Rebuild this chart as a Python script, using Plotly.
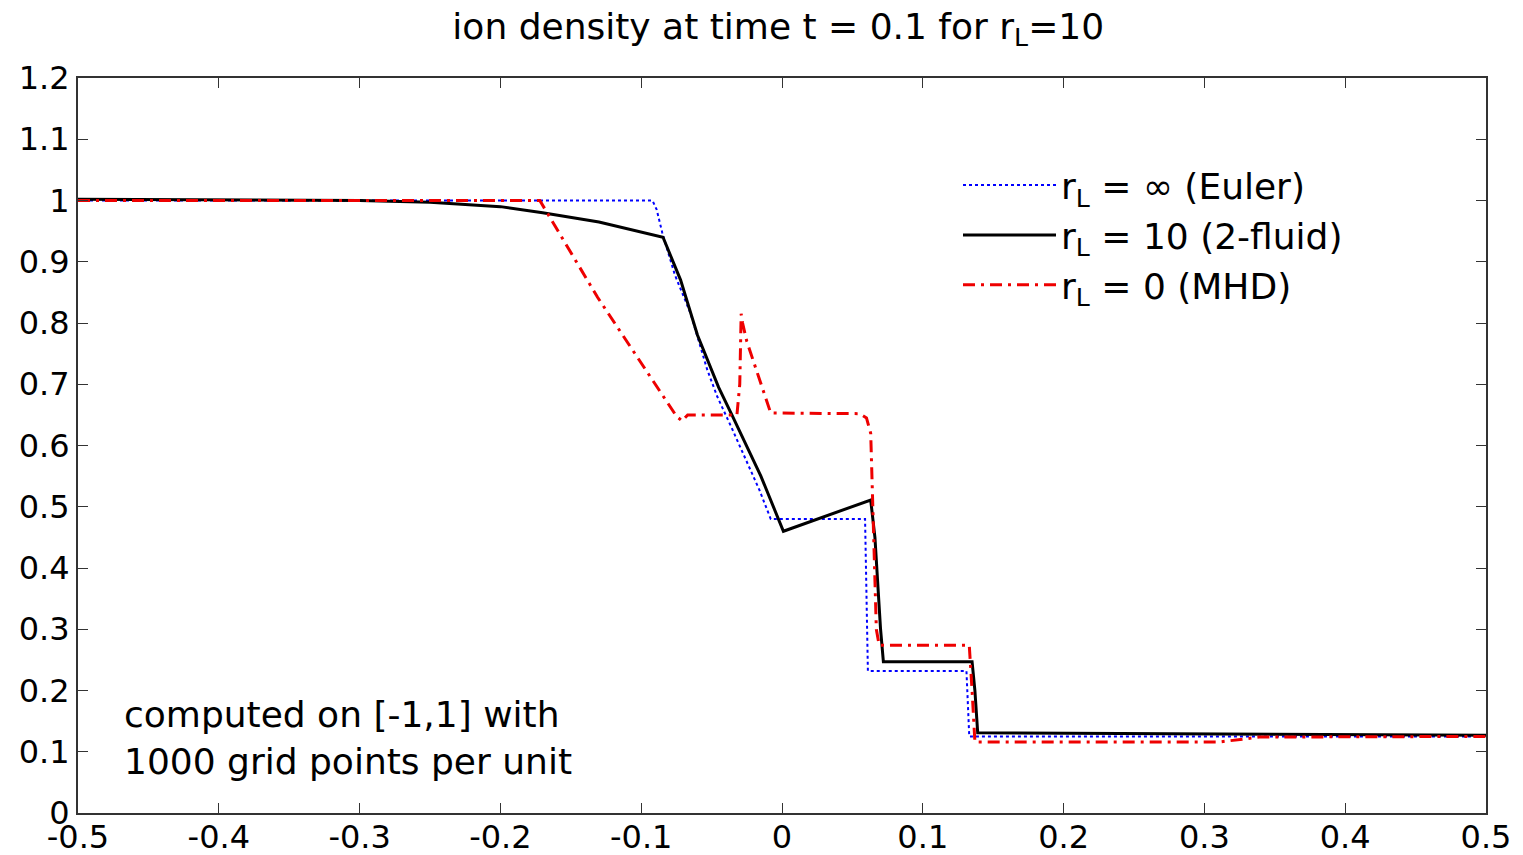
import plotly.graph_objects as go

# Euler (r_L = inf)
euler_x = [-0.5, -0.092, -0.089, -0.085, -0.076, -0.065, -0.053, -0.046, -0.035, -0.016, -0.008, 0.059, 0.061, 0.131, 0.133, 0.5]
euler_y = [1.0, 1.0, 0.985, 0.947, 0.878, 0.816, 0.723, 0.68, 0.625, 0.527, 0.48, 0.48, 0.232, 0.232, 0.125, 0.125]

# 2-fluid (r_L = 10)
fluid_x = [-0.5, -0.3, -0.25, -0.2, -0.17, -0.13, -0.0845, -0.072, -0.060, -0.045, -0.035, -0.015, 0.001, 0.063, 0.066, 0.070, 0.072, 0.135, 0.137, 0.139, 0.24, 0.5]
fluid_y = [1.002, 1.0, 0.997, 0.99, 0.98, 0.965, 0.94, 0.87, 0.78, 0.695, 0.647, 0.55, 0.46, 0.511, 0.45, 0.30, 0.247, 0.247, 0.20, 0.131, 0.13, 0.127]

# MHD (r_L = 0)
mhd_x = [-0.5, -0.172, -0.131, -0.075, -0.071, -0.067, -0.032, -0.030, -0.029, -0.028, -0.025, -0.012, -0.008, 0.055, 0.060, 0.063, 0.067, 0.069, 0.133, 0.135, 0.137, 0.311, 0.339, 0.5]
mhd_y = [1.0, 1.0, 0.842, 0.648, 0.64, 0.65, 0.65, 0.70, 0.815, 0.80, 0.77, 0.68, 0.653, 0.652, 0.645, 0.62, 0.30, 0.274, 0.274, 0.20, 0.116, 0.116, 0.124, 0.125]

x_ticks = [-0.5, -0.4, -0.3, -0.2, -0.1, 0, 0.1, 0.2, 0.3, 0.4, 0.5]
x_labels = ["-0.5", "-0.4", "-0.3", "-0.2", "-0.1", "0", "0.1", "0.2", "0.3", "0.4", "0.5"]
y_ticks = [0, 0.1, 0.2, 0.3, 0.4, 0.5, 0.6, 0.7, 0.8, 0.9, 1.0, 1.1, 1.2]
y_labels = ["0", "0.1", "0.2", "0.3", "0.4", "0.5", "0.6", "0.7", "0.8", "0.9", "1", "1.1", "1.2"]

FONT = "DejaVu Sans, sans-serif"
FS = 36
TFS = 32

fig = go.Figure()
fig.add_trace(go.Scatter(x=euler_x, y=euler_y, mode="lines", name="r<sub>L</sub> = \u221e (Euler)",
                         line=dict(color="#0000ff", width=2, dash="dot")))
fig.add_trace(go.Scatter(x=fluid_x, y=fluid_y, mode="lines", name="r<sub>L</sub> = 10 (2-fluid)",
                         line=dict(color="black", width=3)))
fig.add_trace(go.Scatter(x=mhd_x, y=mhd_y, mode="lines", name="r<sub>L</sub> = 0 (MHD)",
                         line=dict(color="#ee0000", width=3, dash="12px,6px,3px,6px")))

fig.update_layout(
    width=1523, height=855,
    margin=dict(l=78, r=37, t=78, b=42),
    paper_bgcolor="white", plot_bgcolor="white",
    font=dict(family=FONT, size=FS, color="black"),
    title=dict(text="ion density at time t = 0.1 for r<sub>L</sub>=10", x=0.511, xanchor="center",
               y=0.984, yanchor="top", font=dict(size=FS)),
    legend=dict(x=0.625, y=0.895, xanchor="left", yanchor="top", bgcolor="rgba(0,0,0,0)",
                font=dict(size=FS), tracegroupgap=0, itemwidth=93),
    showlegend=True,
    annotations=[dict(text="computed on [-1,1] with<br>1000 grid points per unit", xref="paper", yref="paper",
                      x=0.031, y=0.165, xanchor="left", yanchor="top", align="left", showarrow=False,
                      font=dict(size=FS))],
)
fig.update_xaxes(range=[-0.5, 0.5], tickvals=x_ticks, ticktext=x_labels, ticks="inside", ticklen=10,
                 showline=True, linecolor="#333", linewidth=2, mirror="ticks", showgrid=False,
                 zeroline=False, tickcolor="#333", tickfont=dict(size=TFS), automargin=False,
                 ticklabelstandoff=-5)
fig.update_yaxes(range=[0, 1.2], tickvals=y_ticks, ticktext=y_labels, ticks="inside", ticklen=10,
                 showline=True, linecolor="#333", linewidth=2, mirror="ticks", showgrid=False,
                 zeroline=False, tickcolor="#333", tickfont=dict(size=TFS), automargin=False)

fig.write_html("out.html", config={"displayModeBar": False},
               post_script="document.body.style.margin='0';")
